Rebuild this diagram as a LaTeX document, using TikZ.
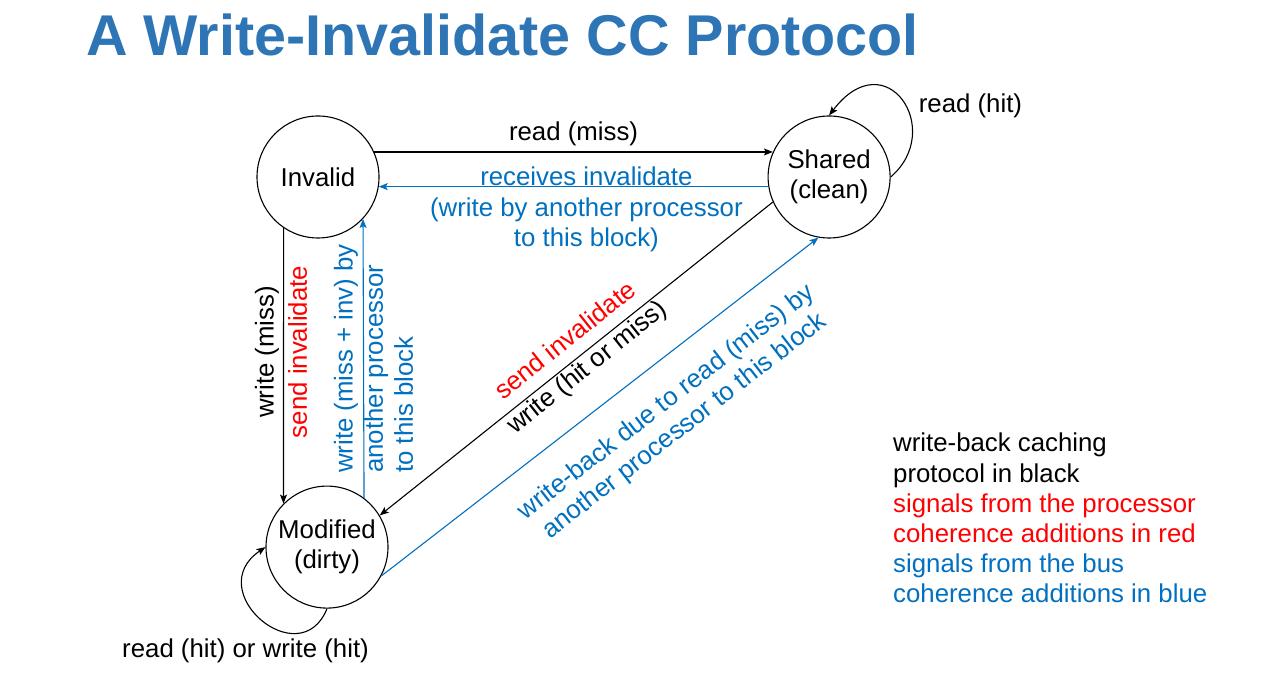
\documentclass[tikz,border=0pt]{standalone}
\usepackage{fontspec}
\setmainfont{Liberation Sans}
\usepackage{tikz}
\usetikzlibrary{arrows.meta, positioning}
\definecolor{busblue}{RGB}{0,112,192}
\definecolor{titleblue}{RGB}{46,117,182}
\definecolor{procred}{RGB}{255,0,0}
\tikzset{
	state/.style={
		circle,
		minimum size=122pt,
		inner sep=0pt,
		draw=black,
		line width=1.1pt,
		text centered
	},
	note/.style={
		inner sep=2pt,
		font=\fontsize{25.8}{30.2}\selectfont
	},
	arrow/.style={line width=1.1pt,-{Stealth[length=9pt,width=7pt,inset=2pt]}}
}

\begin{document}
\begin{tikzpicture}[x=1pt, y=1pt, font=\fontsize{25.8}{30.2}\selectfont]
	\useasboundingbox (0,0) rectangle (1280,677);
	\fill [white] (0,0) rectangle (1280,677);
	\node (title) [anchor=base west, inner sep=0pt, text=titleblue, font=\fontsize{57.5}{60}\selectfont\bfseries] at (86,621) {A Write-Invalidate CC Protocol};

	\node (invalid) [state] at (318,500) {Invalid};
	\node (shared) [state, align=center, right=388pt of invalid] {Shared\\(clean)};
	\node (modified) [state, align=center, below=247pt of invalid, xshift=9pt] {Modified\\(dirty)};

	\draw [arrow] (invalid.24) -- node (rdmiss) [note, above=4pt] {read (miss)} (shared.156);
	\draw [arrow, busblue] (shared.189.4) -- node (rcvinv) [note, pos=.467, anchor=north, yshift=22pt, align=center] {receives invalidate\\(write by another processor\\to this block)} (invalid.-9.4);
	\draw [arrow] (invalid.236) -- node (wrmiss) [note, pos=.45, rotate=90, anchor=south, inner sep=4pt] {write (miss)} node (sendinv) [note, pos=.45, rotate=90, anchor=north, inner sep=4pt, text=procred] {send invalidate} (modified.135);
	\draw [arrow, busblue] (modified.53.8) -- node (wrinv) [note, midway, xshift=10pt, rotate=90, align=left] {write (miss + inv) by\\another processor\\to this block} (invalid.317.6);
	\draw [arrow] (shared.204.3) -- node (sendinvw) [note, pos=.494, sloped, above=10pt, text=procred] {send invalidate} node (wrhit) [note, pos=.494, sloped, below=0pt] {write (hit or miss)} (modified.31.9);
	\draw [arrow, busblue] (modified.-28.1) -- node (wrback) [note, pos=.6, sloped, below=23pt, align=center] {write-back due to read (miss) by\\another processor to this block} (shared.260.8);

	% self loops
	\draw [arrow] (shared.east) .. controls +(55,47) and +(57,75) .. (shared.north) node (rdhit) [note, pos=.35, anchor=south west, xshift=5pt] {read (hit)};
	\draw [arrow] (modified.south) .. controls +(-27,-67) and +(-65,-44) .. (modified.west) node (rdwrhit) [note, pos=.3, below=3pt, xshift=-44pt] {read (hit) or write (hit)};

	\node (legend) [note, anchor=north west, align=left, inner sep=0pt] at (893,244) {write-back caching\\protocol in black\\\textcolor{procred}{signals from the processor}\\\textcolor{procred}{coherence additions in red}\\\textcolor{busblue}{signals from the bus}\\\textcolor{busblue}{coherence additions in blue}};
\end{tikzpicture}
\end{document}
